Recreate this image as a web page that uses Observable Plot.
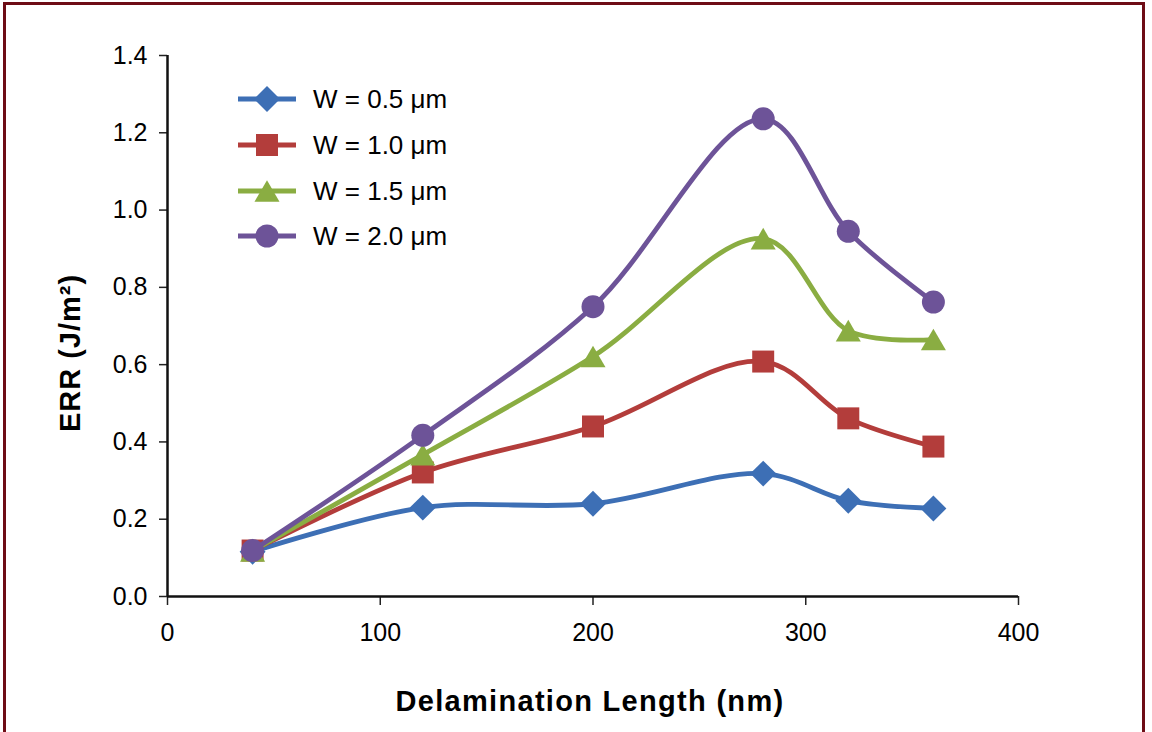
<!DOCTYPE html>
<html>
<head>
<meta charset="utf-8">
<script src="https://cdn.jsdelivr.net/npm/d3@7"></script>
<script src="https://cdn.jsdelivr.net/npm/@observablehq/plot@0.6"></script>
<style>
html,body{margin:0;padding:0;background:#fff;overflow:hidden}
#wrap{position:relative;width:1152px;height:732px;overflow:hidden}
#frame{position:absolute;left:3px;top:2px;width:1136px;height:800px;border:3px solid #6e0c16;border-bottom:none;pointer-events:none}
svg{font-family:"Liberation Sans",Arial,Helvetica,sans-serif}
</style>
</head>
<body>
<div id="wrap"><div id="chart"></div><div id="frame"></div></div>
<script>
// ---- data ----
const delaminationLength = [40, 120, 200, 280, 320, 360];
const seriesNames = ["W = 0.5 μm", "W = 1.0 μm", "W = 1.5 μm", "W = 2.0 μm"];
const errW05 = [0.116, 0.230, 0.240, 0.318, 0.248, 0.228];
const errW10 = [0.119, 0.321, 0.440, 0.608, 0.461, 0.388];
const errW15 = [0.118, 0.367, 0.621, 0.926, 0.688, 0.665];
const errW20 = [0.119, 0.417, 0.750, 1.236, 0.945, 0.762];
const xTicks = [0, 100, 200, 300, 400];
const yTicks = [0, 0.2, 0.4, 0.6, 0.8, 1.0, 1.2, 1.4];
const xTitle = "Delamination Length (nm)";
const yTitle = "ERR (J/m²)";

// ---- styles ----
const colors = ["#3d6fb5", "#b33d3b", "#8aad42", "#6d5398"];
const symbols = ["diamond2", "square", "triangle", "circle"];
const radii = [11.7, 12.4, 9.3, 11.5];
const symbolDy = [0, 0, 3.6, 0];
const d3Symbols = [d3.symbolDiamond2, d3.symbolSquare, d3.symbolTriangle, d3.symbolCircle];

const allSeries = [errW05, errW10, errW15, errW20];
const rows = [];
allSeries.forEach((vals, i) => vals.forEach((v, j) => rows.push({x: delaminationLength[j], y: v, series: seriesNames[i]})));

const marks = [];
seriesNames.forEach((name, i) => {
  const data = rows.filter(d => d.series === name);
  marks.push(Plot.line(data, {x: "x", y: "y", stroke: colors[i], strokeWidth: 4.8, curve: "catmull-rom"}));
  marks.push(Plot.dot(data, {x: "x", y: "y", symbol: () => symbols[i], r: radii[i], fill: colors[i], stroke: "none", dy: symbolDy[i]}));
});

const chart = Plot.plot({
  width: 1152,
  height: 732,
  marginLeft: 167,
  marginRight: 134,
  marginTop: 55,
  marginBottom: 136,
  style: {fontFamily: '"Liberation Sans", Arial, sans-serif', background: "transparent"},
  x: {domain: [0, 400]},
  y: {domain: [0, 1.4]},
  symbol: {type: "identity"},
  marks: [
    Plot.axisX({ticks: xTicks, tickSize: 9, tickPadding: 18, fontSize: 25, label: null, strokeWidth: 1.5, stroke: "#222"}),
    Plot.axisY({ticks: yTicks, tickSize: 8, tickPadding: 12, fontSize: 25, label: null, tickFormat: d3.format(".1f"), strokeWidth: 1.5, stroke: "#222"}),
    Plot.ruleY([0], {stroke: "#111", strokeWidth: 2.5}),
    Plot.ruleX([0], {stroke: "#111", strokeWidth: 2.5}),
    ...marks
  ]
});
document.getElementById("chart").appendChild(chart);

// ---- titles ----
const svg = d3.select(chart);
svg.append("text")
  .attr("x", 590).attr("y", 711)
  .attr("text-anchor", "middle")
  .attr("font-size", 29).attr("font-weight", "bold")
  .attr("letter-spacing", 1.3)
  .attr("fill", "#000")
  .text(xTitle);
svg.append("text")
  .attr("transform", "translate(80,353) rotate(-90)")
  .attr("text-anchor", "middle")
  .attr("font-size", 29).attr("font-weight", "bold")
  .attr("letter-spacing", 1)
  .attr("fill", "#000")
  .text(yTitle);

// ---- legend ----
const legend = svg.append("g").attr("aria-label", "legend");
const rowY = [99, 145, 191, 236];
seriesNames.forEach((name, i) => {
  const g = legend.append("g").attr("transform", `translate(0,${rowY[i]})`);
  g.append("line").attr("x1", 238).attr("x2", 296).attr("y1", 0).attr("y2", 0)
    .attr("stroke", colors[i]).attr("stroke-width", 4.8);
  g.append("path")
    .attr("d", d3.symbol(d3Symbols[i], Math.PI * radii[i] * radii[i])())
    .attr("transform", `translate(267,${symbolDy[i]})`)
    .attr("fill", colors[i]);
  g.append("text").attr("x", 313).attr("y", 0).attr("dy", "0.35em")
    .attr("text-anchor", "start")
    .attr("font-size", 26).attr("fill", "#000").text(name);
});
</script>
</body>
</html>
